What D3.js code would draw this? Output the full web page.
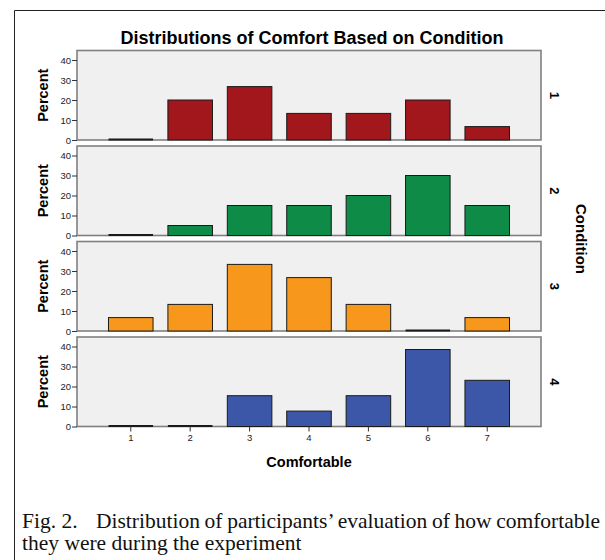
<!DOCTYPE html>
<html>
<head>
<meta charset="utf-8">
<script src="https://cdn.jsdelivr.net/npm/d3@7"></script>
<style>
  body { margin: 0; background: #fff; }
  svg { display: block; }
  .tick text { font-family: "Liberation Sans", Arial, sans-serif; }
</style>
</head>
<body>
<div id="chart"></div>
<script>
// Comfort ratings (1-7) per condition, in percent
const categories = [1, 2, 3, 4, 5, 6, 7];
const conditions = ['1', '2', '3', '4'];
const cond1 = [0, 20, 26.7, 13.3, 13.3, 20, 6.7];
const cond2 = [0, 5, 15, 15, 20, 30, 15];
const cond3 = [6.7, 13.3, 33.3, 26.7, 13.3, 0, 6.7];
const cond4 = [0, 0, 15.4, 7.7, 15.4, 38.5, 23.1];
const yTicks = [0, 10, 20, 30, 40];

const seriesValues = [cond1, cond2, cond3, cond4];
const colors = ['#a1171c', '#0f8b48', '#f7981d', '#3c57a8'];

const W = 605, H = 560;
const panelLeft = 77, panelRight = 541;
const panelTop = 50.5, panelH = 89.5, panelGap = 6;
const sans = '"Liberation Sans", Arial, sans-serif';
const serif = '"Liberation Serif", "Times New Roman", serif';

const svg = d3.select('#chart').append('svg')
    .attr('width', W)
    .attr('height', H);

svg.append('rect').attr('width', W).attr('height', H).attr('fill', '#fff');

// outer frame (left + top edge)
svg.append('path')
    .attr('d', `M14.5,${H} V10.5 H${W}`)
    .attr('fill', 'none')
    .attr('stroke', '#222')
    .attr('stroke-width', 1);

// title
svg.append('text')
    .attr('x', 312)
    .attr('y', 44)
    .attr('text-anchor', 'middle')
    .style('font-family', sans)
    .style('font-weight', 'bold')
    .style('font-size', '18px')
    .text('Distributions of Comfort Based on Condition');

const x = d3.scaleBand()
    .domain(categories)
    .range([panelLeft, panelRight])
    .paddingInner(0.25)
    .paddingOuter(0.53);

conditions.forEach((cond, i) => {
    const top = panelTop + i * (panelH + panelGap);
    const y = d3.scaleLinear()
        .domain([0, panelH / 2])
        .range([top + panelH, top]);

    const g = svg.append('g');

    g.append('rect')
        .attr('x', panelLeft)
        .attr('y', top)
        .attr('width', panelRight - panelLeft)
        .attr('height', panelH)
        .attr('fill', '#f0f0f0')
        .attr('stroke', '#808080')
        .attr('stroke-width', 1.6);

    const data = categories.map((c, j) => ({cat: c, value: seriesValues[i][j]}));

    // bars
    g.selectAll('.bar')
        .data(data.filter(d => d.value > 0))
        .enter().append('rect')
        .attr('class', 'bar')
        .attr('x', d => x(d.cat))
        .attr('y', d => y(d.value))
        .attr('width', x.bandwidth())
        .attr('height', d => y(0) - y(d.value))
        .attr('fill', colors[i])
        .attr('stroke', '#1a1a1a')
        .attr('stroke-width', 1);

    // empty categories: a dark line on the baseline
    g.selectAll('.zero')
        .data(data.filter(d => d.value === 0))
        .enter().append('line')
        .attr('class', 'zero')
        .attr('x1', d => x(d.cat))
        .attr('x2', d => x(d.cat) + x.bandwidth())
        .attr('y1', y(0) - 0.5)
        .attr('y2', y(0) - 0.5)
        .attr('stroke', '#1a1a1a')
        .attr('stroke-width', 2);

    // y axis
    const yAxis = g.append('g')
        .attr('transform', `translate(${panelLeft},0)`)
        .call(d3.axisLeft(y).tickValues(yTicks).tickSize(5).tickPadding(1));
    yAxis.select('.domain').remove();
    yAxis.selectAll('.tick line').attr('stroke', '#333');
    yAxis.selectAll('.tick text')
        .attr('fill', '#222')
        .style('font-size', '9.5px');

    // y label
    g.append('text')
        .attr('transform', `translate(48,${top + panelH / 2}) rotate(-90)`)
        .attr('text-anchor', 'middle')
        .style('font-family', sans)
        .style('font-weight', 'bold')
        .style('font-size', '14.5px')
        .text('Percent');

    // condition label on the right
    g.append('text')
        .attr('transform', `translate(550,${top + panelH / 2}) rotate(90)`)
        .attr('text-anchor', 'middle')
        .style('font-family', sans)
        .style('font-weight', 'bold')
        .style('font-size', '13px')
        .text(cond);

    // x axis on the last panel
    if (i === conditions.length - 1) {
        const xAxis = g.append('g')
            .attr('transform', `translate(0,${top + panelH})`)
            .call(d3.axisBottom(x).tickSize(5).tickPadding(3));
        xAxis.select('.domain').remove();
        xAxis.selectAll('.tick line').attr('stroke', '#333');
        xAxis.selectAll('.tick text')
            .attr('fill', '#222')
            .style('font-size', '9.5px');
    }
});

// x label
svg.append('text')
    .attr('x', 309)
    .attr('y', 467)
    .attr('text-anchor', 'middle')
    .style('font-family', sans)
    .style('font-weight', 'bold')
    .style('font-size', '14.5px')
    .text('Comfortable');

// facet title
svg.append('text')
    .attr('transform', `translate(576,239) rotate(90)`)
    .attr('text-anchor', 'middle')
    .style('font-family', sans)
    .style('font-weight', 'bold')
    .style('font-size', '15px')
    .text('Condition');

// caption, first line justified to the right edge
const capStyle = sel => sel
    .style('font-family', serif)
    .style('font-size', '21.5px')
    .attr('fill', '#111');

svg.append('text').call(capStyle)
    .attr('x', 22).attr('y', 528)
    .text('Fig. 2.');

const startX = 96, endX = 600;
const line1 = svg.append('text').call(capStyle)
    .attr('x', startX).attr('y', 528)
    .text('Distribution of participants’ evaluation of how comfortable');
const natural = line1.node().getComputedTextLength();
const gaps = line1.text().split(' ').length - 1;
line1.style('word-spacing', ((endX - startX - natural) / gaps) + 'px');

svg.append('text').call(capStyle)
    .attr('x', 22).attr('y', 550)
    .text('they were during the experiment');
</script>
</body>
</html>
